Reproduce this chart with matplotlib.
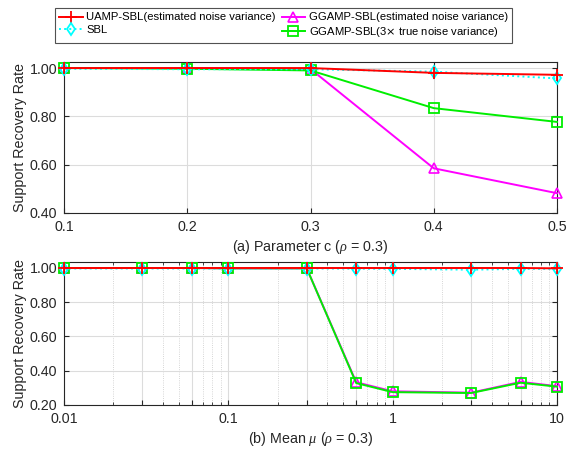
import matplotlib
matplotlib.use("Agg")
import matplotlib.pyplot as plt
from matplotlib.ticker import FixedLocator, LogLocator, NullFormatter, FormatStrFormatter

plt.rcParams["font.family"] = ["Liberation Sans", "DejaVu Sans"]
plt.rcParams["mathtext.fontset"] = "custom"
plt.rcParams["mathtext.it"] = "Liberation Serif:italic"

# (a) parameter c
c_vals = [0.1, 0.2, 0.3, 0.4, 0.5]
a_uamp = [1.0, 1.0, 1.0, 0.98, 0.972]
a_sbl = [0.997, 0.995, 0.995, 0.985, 0.957]
a_gg_est = [1.0, 1.0, 0.996, 0.585, 0.482]
a_gg_3x = [1.0, 0.997, 0.99, 0.834, 0.777]

# (b) mean mu
mu_vals = [0.01, 0.03, 0.06, 0.1, 0.3, 0.6, 1, 3, 6, 10]
b_uamp = [1.0, 1.0, 1.0, 1.0, 1.0, 1.0, 1.0, 1.0, 1.0, 0.998]
b_sbl = [0.997, 0.997, 0.997, 0.997, 0.997, 0.996, 0.995, 0.99, 0.995, 0.995]
b_gg_est = [1.0, 1.0, 1.0, 0.998, 0.998, 0.333, 0.28, 0.272, 0.335, 0.31]
b_gg_3x = [1.0, 1.0, 1.0, 0.998, 0.998, 0.328, 0.275, 0.27, 0.33, 0.307]

labels = ["UAMP-SBL(estimated noise variance)", "SBL",
          "GGAMP-SBL(estimated noise variance)",
          r"GGAMP-SBL(3$\times$ true noise variance)"]

styles = [
    dict(color="#ff0000", marker="+", linestyle="-", ms=8, mew=1.3, zorder=5),
    dict(color="#00ffff", marker="d", linestyle=":", ms=6.5, mew=1.3, mfc="none", zorder=4),
    dict(color="#ff00ff", marker="^", linestyle="-", ms=7.5, mew=1.2, mfc="none", zorder=3),
    dict(color="#00ee00", marker="s", linestyle="-", ms=6.5, mew=1.3, mfc="none", zorder=3),
]

FS = 10.3
LFS = 8.1
TXT = "#262626"
fig = plt.figure(figsize=(5.71, 4.49), dpi=100)
ax1 = fig.add_axes([64 / 571, 1 - 213 / 449, 493 / 571, 151 / 449])
ax2 = fig.add_axes([64 / 571, 1 - 405 / 449, 493 / 571, 143 / 449])


def style_axes(ax):
    for s in ax.spines.values():
        s.set_color(TXT)
        s.set_linewidth(0.8)
    ax.tick_params(which="both", direction="in", top=True, right=True,
                   labelsize=FS, colors=TXT, length=3.5, pad=5)
    ax.tick_params(which="minor", length=2)
    ax.set_axisbelow(True)


handles = []
for ys, st, lab in zip([a_uamp, a_sbl, a_gg_est, a_gg_3x], styles, labels):
    h, = ax1.plot(c_vals, ys, lw=1.4, label=lab, clip_on=False, **st)
    handles.append(h)
ax1.set_xlim(0.1, 0.5)
ax1.set_ylim(0.4, 1.025)
ax1.set_xticks(c_vals)
ax1.set_yticks([0.4, 0.6, 0.8, 1.0])
ax1.yaxis.set_major_formatter(FormatStrFormatter("%.2f"))
ax1.xaxis.set_major_formatter(FormatStrFormatter("%.1f"))
ax1.grid(True, color="#dcdcdc", linewidth=0.8)
style_axes(ax1)
ax1.set_ylabel("Support Recovery Rate", fontsize=FS, color=TXT, labelpad=2)
ax1.set_xlabel(r"(a) Parameter c ($\rho$ = 0.3)", fontsize=FS, color=TXT, labelpad=3)

for ys, st, lab in zip([b_uamp, b_sbl, b_gg_est, b_gg_3x], styles, labels):
    ax2.plot(mu_vals, ys, lw=1.4, clip_on=False, **st)
ax2.set_xscale("log")
ax2.set_xlim(0.01, 10)
ax2.set_ylim(0.2, 1.035)
ax2.xaxis.set_major_locator(FixedLocator(mu_vals))
ax2.xaxis.set_major_formatter(
    plt.FuncFormatter(lambda v, p: {0.01: "0.01", 0.1: "0.1", 1: "1", 10: "10"}.get(round(v, 4), "")))
ax2.xaxis.set_minor_locator(LogLocator(base=10, subs=[2, 4, 5, 7, 8, 9]))
ax2.xaxis.set_minor_formatter(NullFormatter())
ax2.set_yticks([0.2, 0.4, 0.6, 0.8, 1.0])
ax2.yaxis.set_major_formatter(FormatStrFormatter("%.2f"))
ax2.grid(True, which="major", color="#dcdcdc", linewidth=0.8)
ax2.grid(True, which="minor", axis="x", color="#c8c8c8", linewidth=0.6, linestyle=":")
style_axes(ax2)
ax2.set_ylabel("Support Recovery Rate", fontsize=FS, color=TXT, labelpad=2)
ax2.set_xlabel(r"(b) Mean $\mu$ ($\rho$ = 0.3)", fontsize=FS, color=TXT, labelpad=3)

leg = fig.legend(handles=handles, loc="upper left", ncol=2,
                 bbox_to_anchor=(55 / 571, 1 - 8 / 449),
                 fontsize=LFS, frameon=True, fancybox=False,
                 borderpad=0.4, labelspacing=0.2, handlelength=2.1,
                 handletextpad=0.3, columnspacing=0.5, borderaxespad=0)
leg.get_frame().set_edgecolor(TXT)
leg.get_frame().set_linewidth(0.8)

fig.savefig("out.png", dpi=100)
